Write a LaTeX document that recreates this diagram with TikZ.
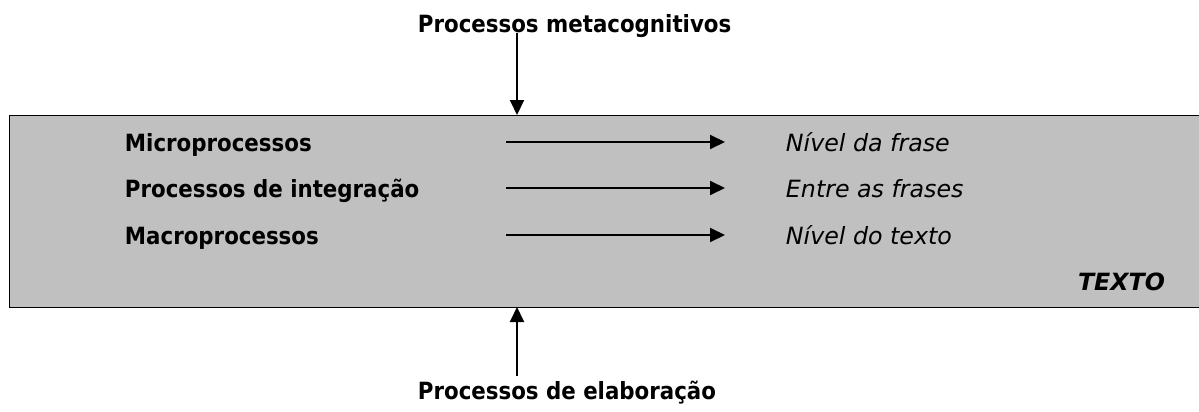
\documentclass[tikz,border=0pt]{standalone}
\usepackage{fontspec}
\setmainfont{DejaVu Sans Condensed}
\newfontfamily\widefont{DejaVu Sans}
\usetikzlibrary{arrows.meta}
\definecolor{boxgray}{RGB}{192,192,192}

\begin{document}
\begin{tikzpicture}[x=0.02cm, y=-0.02cm, >={Triangle[length=0.3cm, width=0.28cm]}, line width=1.1pt,
    font=\fontsize{13.5}{16}\selectfont, txt/.style={inner sep=0pt}]
    \useasboundingbox (0,0) rectangle (1199,412);
    \node[draw, line width=0.8pt, fill=boxgray, anchor=north west, minimum width=24.2cm, minimum height=3.84cm] (texto) at (9,115) {};
    \node[txt, anchor=base west] (meta) at (417,33) {\bfseries Processos metacognitivos};
    \node[txt, anchor=base west] (elab) at (417,399) {\bfseries Processos de elaboração};
    \coordinate (metatip) at (517,115);
    \coordinate (elabtip) at (517,307);
    \coordinate (elabfoot) at (517,376);
    \draw[->](meta.base -| metatip)--(metatip);
    \draw[->](elabfoot)--(elabtip);
    \foreach \b/\l/\r [count=\i] in {151/Microprocessos/Nível da frase, 197/Processos de integração/Entre as frases, 244/Macroprocessos/Nível do texto}{
        \node[txt, anchor=base west] (proc\i) at (124,\b) {\bfseries \l};
        \node[txt, anchor=base west] (nivel\i) at (785,\b) {\widefont\itshape \r};
        \coordinate (s\i) at (506,\b-9);
        \coordinate (e\i) at (725,\b-9);
        \draw[->](s\i)--(e\i);
    }
    \node[txt, anchor=base east] (lbl) at (1166,290) {\widefont\bfseries\itshape TEXTO};
\end{tikzpicture}
\end{document}
